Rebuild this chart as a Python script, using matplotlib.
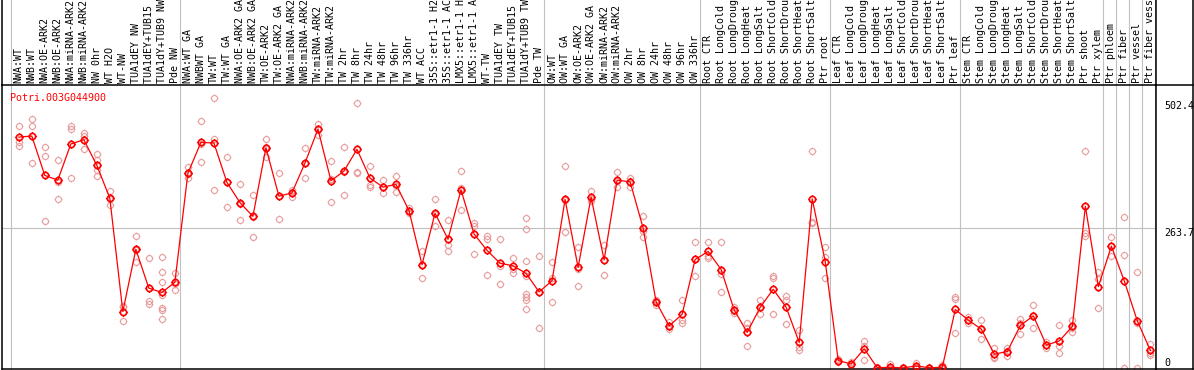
import numpy as np
import matplotlib.pyplot as plt
from matplotlib.lines import Line2D
from matplotlib.path import Path
from matplotlib.transforms import blended_transform_factory, offset_copy

gene_id = "Potri.003G044900"

sample_labels = [
    "NWA:WT", "NWB:WT", "NWA:OE-ARK2", "NWB:OE-ARK2", "NWA:miRNA-ARK2", "NWB:miRNA-ARK2",
    "NW 0hr", "WT H2O", "WT-NW", "TUA1dEY NW", "TUA1dEY+TUB15 NW", "TUA1dY+TUB9 NW", "Pde NW",
    "NWA:WT GA", "NWBWT GA", "TW:WT", "TW:WT GA", "NWA:OE-ARK2 GA", "NWB:OE-ARK2 GA",
    "TW:OE-ARK2", "TW:OE-ARK2 GA", "NWA:miRNA-ARK2 GA", "NWB:miRNA-ARK2 GA", "TW:miRNA-ARK2",
    "TW:miRNA-ARK2 GA", "TW 2hr", "TW 8hr", "TW 24hr", "TW 48hr", "TW 96hr", "TW 336hr",
    "WT ACC", "35S::etr1-1 H2O", "35S::etr1-1 ACC", "LMX5::etr1-1 H2O", "LMX5::etr1-1 ACC",
    "WT-TW", "TUA1dEY TW", "TUA1dEY+TUB15 TW", "TUA1dY+TUB9 TW", "Pde TW",
    "OW:WT", "OW:WT GA", "OW:OE-ARK2", "OW:OE-ARK2 GA", "OW:miRNA-ARK2", "OW:miRNA-ARK2 GA",
    "OW 2hr", "OW 8hr", "OW 24hr", "OW 48hr", "OW 96hr", "OW 336hr",
    "Root CTR", "Root LongCold", "Root LongDrought", "Root LongHeat", "Root LongSalt",
    "Root ShortCold", "Root ShortDrought", "Root ShortHeat", "Root ShortSalt", "Ptr root",
    "Leaf CTR", "Leaf LongCold", "Leaf LongDrought", "Leaf LongHeat", "Leaf LongSalt",
    "Leaf ShortCold", "Leaf ShortDrought", "Leaf ShortHeat", "Leaf ShortSalt", "Ptr leaf",
    "Stem CTR", "Stem LongCold", "Stem LongDrought", "Stem LongHeat", "Stem LongSalt",
    "Stem ShortCold", "Stem ShortDrought", "Stem ShortHeat", "Stem ShortSalt", "Ptr shoot",
    "Ptr xylem", "Ptr phloem", "Ptr fiber", "Ptr vessel", "Ptr fiber vessel",
]

# mean expression per sample
mean_values = [
    434, 436, 362, 353, 421, 429, 381, 319, 106, 223, 150, 142, 161,
    366, 424, 423, 349, 311, 285, 414, 323, 329, 385, 449, 352, 370, 411, 357, 340,
    345, 296, 194, 291, 242, 335, 252, 221, 197, 192, 178, 143,
    164, 317, 189, 321, 203, 353, 350, 263, 124, 79, 101, 204,
    219, 185, 109, 67, 114, 148, 114, 48, 318, 200,
    14, 7.5, 36, 0.5, 1.3, 0.3, 3.8, 0.5, 1.3, 110,
    90, 73, 26, 31, 80, 98, 43, 51, 78, 304, 153,
    229, 163, 88, 33,
]

# individual replicates per sample
replicate_values = [
    [455, 425, 417], [468, 455, 385], [415, 398, 276], [391, 350, 318], [455, 450, 358],
    [442, 436, 411], [402, 390, 372, 361], [333, 318, 306], [116, 114, 88], [248, 222, 199],
    [207, 125, 120], [209, 180, 162, 137, 112, 109, 92], [179, 158, 146],
    [377, 365, 357], [464, 421, 387], [508, 430, 335], [396, 349, 302], [346, 309, 278],
    [325, 284, 246], [430, 415, 397], [366, 323, 280], [335, 330, 322], [413, 385, 357],
    [459, 450, 438], [389, 355, 312], [415, 369, 326], [499, 368, 366], [380, 344, 340],
    [353, 340, 328], [361, 343, 331], [300, 295, 292], [220, 193, 169], [317, 289, 267],
    [278, 231, 219], [370, 338, 297], [273, 266, 214], [249, 242, 175], [242, 192, 158],
    [206, 186, 179], [281, 261, 202, 172, 140, 134, 128, 110], [211, 143, 75],
    [199, 169, 124], [380, 316, 255], [227, 186, 154], [332, 318, 313], [231, 203, 175],
    [368, 352, 340], [358, 352, 340], [286, 257, 247], [128, 126, 118], [87, 77, 73],
    [128, 90, 84],
    [236, 204, 173], [237, 210, 206], [236, 176, 143], [115, 108, 104], [85, 75, 41],
    [128, 113, 101], [173, 170, 101], [136, 128, 82], [71, 39, 33], [408, 274, 272],
    [227, 208, 169], [16, 14, 12], [11, 6, 5], [51, 42, 15], [1, 0, 0], [7.5, 0, 0],
    [1, 0, 0], [10, 1, 0], [1, 0.5, 0], [5, 0, 0], [133, 130, 65],
    [95, 91, 84], [90, 75, 54], [38, 21, 19], [38, 32, 22.5], [93, 84, 63], [118, 100, 75],
    [48, 44, 37], [80, 41, 28], [90, 75, 68], [408, 253, 249], [180, 167, 112],
    [246, 230, 210], [283, 212, 0], [180, 84, 0], [45, 29, 24],
]

group_edges = [-0.5, 12.5, 40.5, 52.5, 62.5, 72.5, 83.5, 84.5, 85.5, 86.5, 87.5]
grid_value = 263.7
scale_labels = [("502.4", 502.4, "top"), ("263.7", 263.7, "top"), ("0", 0, "bottom")]

W, H = 1194, 370
FONT = "DejaVu Sans Mono"
RED = "#ff0000"
PINK = "#e89c9c"
GRID = "#c0c0c0"

fig = plt.figure(figsize=(W / 100, H / 100), dpi=100)
ax = fig.add_axes([2 / W, 1 - 369 / H, 1154 / W, 284 / H])

x = np.arange(len(sample_labels))
ax.set_xlim(-1.29, 87.43)
ax.set_ylim(-1.88, 531.9)
ax.set_xticks([])
ax.set_yticks([])
for sp in ax.spines.values():
    sp.set_linewidth(1.1)
    sp.set_color("black")

# little circle with four ticks, like the original markers
ring = Path.make_compound_path(
    Path.unit_circle(),
    Path([(0, 1), (0, 1.3), (0, -1), (0, -1.3), (1, 0), (1.3, 0), (-1, 0), (-1.3, 0)],
         [Path.MOVETO, Path.LINETO] * 4),
)

# group separators run up through the label strip
for e in group_edges:
    ax.axvline(e - 0.12, 0, 369 / 284, color=GRID, lw=0.8, clip_on=False, zorder=0)
ax.axhline(grid_value, color=GRID, lw=0.8, zorder=0)

for i, reps in enumerate(replicate_values):
    ax.plot([i] * len(reps), reps, linestyle="none", marker=ring, ms=5.6,
            mfc="none", mec=PINK, mew=0.8, zorder=2)

ax.plot(x, mean_values, color=RED, lw=0.9, zorder=3)
ax.plot(x, mean_values, linestyle="none", marker=ring, ms=5.8,
        mfc="none", mec=RED, mew=1.2, zorder=4)

ax.text(8 / 1154, (369 - 100.7) / 284, gene_id, transform=ax.transAxes,
        color=RED, family=FONT, fontsize=7.2, va="baseline", ha="left")

# sample labels above the plot
lab_tr = offset_copy(blended_transform_factory(ax.transData, ax.transAxes), fig=fig, y=2.3, units="dots")
for i, lab in enumerate(sample_labels):
    ax.text(i, 1.0, lab, transform=lab_tr, rotation=90, ha="center", va="bottom",
            family=FONT, fontsize=7.2, clip_on=False)

# value scale on the right
sc_tr = blended_transform_factory(ax.transAxes, ax.transData)
for txt, val, va in scale_labels:
    ax.text((1164 - 2) / 1154, val, txt, transform=sc_tr, ha="left", va=va,
            family=FONT, fontsize=7.2, clip_on=False)


def frame_line(xs, ys):
    fig.add_artist(Line2D([v / W for v in xs], [1 - v / H for v in ys],
                          transform=fig.transFigure, color="black", lw=1.1))


frame_line([2, 2], [0, 85])
frame_line([1156, 1156], [0, 85])
frame_line([1156, 1193], [85, 85])
frame_line([1156, 1193], [369, 369])
frame_line([1193, 1193], [0, 369])

fig.savefig("out.png", dpi=100)
